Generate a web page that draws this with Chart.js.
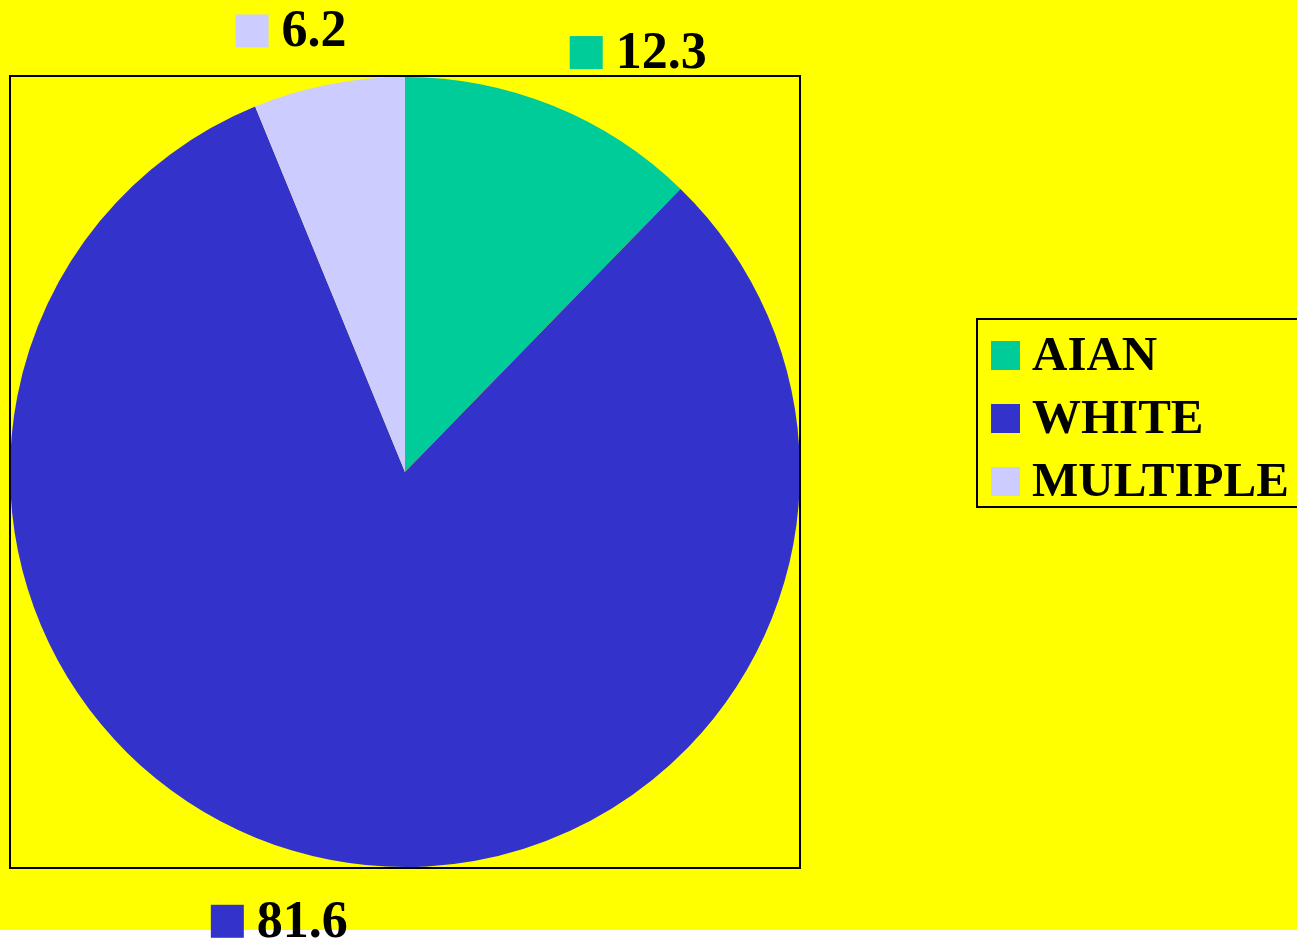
<!DOCTYPE html>
<html>
<head>
<meta charset="utf-8">
<title>Pie</title>
<script src="https://cdn.jsdelivr.net/npm/chart.js@4/dist/chart.umd.min.js"></script>
<style>
  html, body { margin: 0; padding: 0; background: #ffffff; }
  canvas { display: block; }
</style>
</head>
<body>
<canvas id="pie" width="1297" height="939"></canvas>
<script>
// data
const categories = ['AIAN', 'WHITE', 'MULTIPLE'];
const shares = [12.3, 81.6, 6.2];
const sliceColors = ['#00CC99', '#3333CC', '#CCCCFF'];

const serif = '"Liberation Serif", "Times New Roman", serif';

// yellow page behind everything, frame round the plot
const backdrop = {
  id: 'backdrop',
  beforeDraw(chart) {
    const ctx = chart.ctx;
    ctx.save();
    ctx.fillStyle = '#FFFF00';
    ctx.fillRect(0, 0, chart.width, 930);
    ctx.restore();
  },
  afterDraw(chart) {
    const a = chart.chartArea;
    const ctx = chart.ctx;
    ctx.save();
    ctx.strokeStyle = '#000';
    ctx.lineWidth = 2;
    ctx.strokeRect(a.left, a.top, a.right - a.left, a.bottom - a.top);
    ctx.restore();
  }
};

// value labels with a colour square, outside each slice
const valueLabels = {
  id: 'valueLabels',
  afterDraw(chart) {
    const ctx = chart.ctx;
    const meta = chart.getDatasetMeta(0);
    const vals = chart.data.datasets[0].data;
    const cols = chart.data.datasets[0].backgroundColor;
    ctx.save();
    ctx.font = 'bold 52px ' + serif;
    ctx.textBaseline = 'middle';
    meta.data.forEach((arc, i) => {
      const p = arc.getProps(['x', 'y', 'startAngle', 'endAngle', 'outerRadius'], true);
      const mid = (p.startAngle + p.endAngle) / 2;
      const px = p.x + Math.cos(mid) * p.outerRadius;
      const py = p.y + Math.sin(mid) * p.outerRadius;
      const txt = vals[i].toFixed(1);
      const box = 33, gap = 13;
      const w = box + gap + ctx.measureText(txt).width;
      const left = Math.cos(mid) >= 0 ? px + 16 : px + 18 - w;
      const cy = Math.sin(mid) < 0 ? py - 37 - box / 2 : py + 45 + box / 2;
      ctx.fillStyle = cols[i];
      ctx.fillRect(left, cy - box / 2, box, box);
      ctx.fillStyle = '#000';
      ctx.fillText(txt, left + box + gap, cy + 2);
    });
    ctx.restore();
  }
};

// boxed legend on the right
const sideLegend = {
  id: 'sideLegend',
  afterDraw(chart, args, opts) {
    const ctx = chart.ctx;
    const labels = chart.data.labels;
    const cols = chart.data.datasets[0].backgroundColor;
    ctx.save();
    ctx.strokeStyle = '#000';
    ctx.lineWidth = 2;
    ctx.strokeRect(opts.left, opts.top, opts.width, opts.height);
    ctx.font = 'bold 49px ' + serif;
    ctx.textBaseline = 'middle';
    labels.forEach((lab, i) => {
      const cy = opts.top + 36 + i * opts.rowGap;
      ctx.fillStyle = cols[i];
      ctx.fillRect(opts.left + 14, cy - 14, 29, 29);
      ctx.fillStyle = '#000';
      ctx.fillText(lab, opts.left + 55, cy + 2);
    });
    ctx.restore();
  }
};

new Chart(document.getElementById('pie'), {
  type: 'pie',
  data: {
    labels: categories,
    datasets: [{
      data: shares,
      backgroundColor: sliceColors,
      borderWidth: 0
    }]
  },
  options: {
    responsive: false,
    animation: false,
    devicePixelRatio: 1,
    layout: { padding: { left: 10, top: 76, right: 497, bottom: 71 } },
    plugins: {
      legend: { display: false },
      tooltip: { enabled: false },
      sideLegend: { left: 977, top: 319, width: 330, height: 188, rowGap: 63 }
    }
  },
  plugins: [backdrop, valueLabels, sideLegend]
});
</script>
</body>
</html>
